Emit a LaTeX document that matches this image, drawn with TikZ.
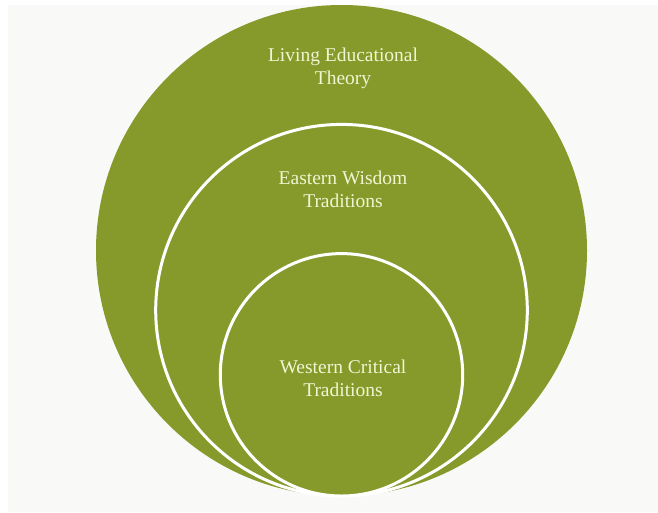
\documentclass[tikz,border=0pt]{standalone}
\usepackage{fontspec}
\setmainfont{Liberation Serif}
\definecolor{leaf}{HTML}{859A2B}
\definecolor{cream}{HTML}{F1F5D2}
\definecolor{paper}{HTML}{F9F9F8}
\begin{document}
\begin{tikzpicture}[x=1pt,y=-1pt,
  ring/.style={circle,fill=leaf,draw=white,line width=3pt,inner sep=0pt},
  label/.style={text=cream,font=\fontsize{19.5}{23}\selectfont,align=center}]
  % page and paper background
  \fill[white] (0,0) rectangle (658,512);
  \fill[paper] (8,5) rectangle (658,512);
  \useasboundingbox (0,0) rectangle (658,512);
  % nested circles, all touching at the bottom
  \node[ring,draw=none,minimum size=491pt] (outer) at (341.5,250.5) {};
  \node[ring,minimum size=371.6pt] (middle) at (341.5,310.2) {};
  \node[ring,minimum size=242.4pt] (inner) at (341.5,374.8) {};
  % labels
  \node[label] (t1) at (343,68) {Living Educational\\Theory};
  \node[label] (t2) at (343,189) {Eastern Wisdom\\Traditions};
  \node[label] (t3) at (343,378) {Western Critical\\Traditions};
\end{tikzpicture}
\end{document}
